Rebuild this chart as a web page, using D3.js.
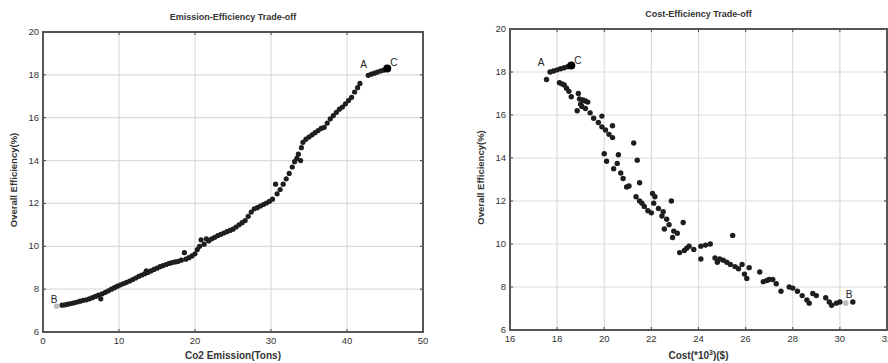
<!DOCTYPE html>
<html>
<head>
<meta charset="utf-8">
<script src="https://cdn.jsdelivr.net/npm/d3@7"></script>
<style>
  body { margin: 0; background: #fff; }
  svg { display: block; font-family: "Liberation Sans", Arial, sans-serif; }
</style>
</head>
<body>
<svg id="chart" width="888" height="363"></svg>
<script>
// Emission vs efficiency (left panel)
const emisX = [2.5, 2.9, 3.3, 3.7, 4.1, 4.5, 4.9, 5.3, 5.7, 6.1, 6.5, 6.9, 7.3, 7.6, 7.8, 8.2, 8.6, 9.0, 9.4, 9.8,
  10.2, 10.6, 11.0, 11.4, 11.8, 12.2, 12.6, 13.0, 13.4, 13.6, 13.8, 14.2, 14.6, 15.0, 15.4, 15.8, 16.2, 16.6, 17.0, 17.4,
  17.8, 18.2, 18.6, 18.8, 19.2, 19.6, 20.0, 20.3, 20.6, 20.8, 21.2, 21.5, 21.8, 22.2, 22.6, 23.0, 23.4, 23.8, 24.2, 24.6,
  25.0, 25.4, 25.8, 26.2, 26.6, 27.0, 27.4, 27.8, 28.2, 28.6, 29.0, 29.4, 29.8, 30.2, 30.6, 30.8, 31.2, 31.6, 32.0, 32.4,
  32.8, 33.1, 33.4, 33.6, 33.9, 34.0, 34.2, 34.6, 35.0, 35.4, 35.8, 36.2, 36.6, 37.0, 37.4, 37.8, 38.2, 38.6, 39.0, 39.4,
  39.8, 40.2, 40.6, 41.0, 41.4, 41.7, 42.8, 43.2, 43.6, 44.0, 44.4, 44.8];
const emisY = [7.25, 7.27, 7.3, 7.33, 7.36, 7.4, 7.44, 7.48, 7.5, 7.55, 7.6, 7.66, 7.72, 7.55, 7.78, 7.85, 7.92, 8.0, 8.07, 8.14,
  8.2, 8.26, 8.32, 8.38, 8.45, 8.52, 8.6, 8.66, 8.72, 8.85, 8.78, 8.85, 8.92, 8.98, 9.05, 9.1, 9.15, 9.2, 9.24, 9.27,
  9.3, 9.35, 9.7, 9.4, 9.47, 9.55, 9.65, 9.85, 10.0, 10.3, 10.1, 10.35, 10.25, 10.35, 10.42, 10.5, 10.56, 10.62, 10.68, 10.74,
  10.8, 10.9, 11.0, 11.1, 11.2, 11.4, 11.6, 11.75, 11.8, 11.88, 11.95, 12.02, 12.1, 12.2, 12.9, 12.45, 12.65, 12.9, 13.15, 13.4,
  13.7, 13.95, 14.1, 14.3, 14.0, 14.6, 14.85, 15.0, 15.1, 15.2, 15.3, 15.4, 15.5, 15.55, 15.75, 15.95, 16.1, 16.25, 16.4, 16.5,
  16.65, 16.8, 16.95, 17.2, 17.4, 17.6, 17.98, 18.03, 18.08, 18.13, 18.18, 18.22];
const emisB = [1.8, 7.2];
const emisC = [45.3, 18.3];
const emisA = [42.0, 18.4];

// Cost vs efficiency (right panel)
const costX = [17.55, 17.7, 17.85, 18.0, 18.15, 18.3, 18.45, 18.1, 18.2, 18.3, 18.4, 18.5, 18.6, 18.9, 18.95, 19.0, 18.85, 19.1, 19.2, 19.3,
  19.05, 19.2, 19.4, 19.55, 19.9, 19.75, 19.9, 20.05, 20.2, 20.35, 20.35, 20.0, 20.1, 20.4, 20.6, 20.55, 20.7, 20.8, 20.95, 21.05,
  21.25, 21.4, 21.5, 21.35, 21.5, 21.6, 21.7, 21.85, 22.0, 22.05, 22.15, 22.1, 22.3, 22.45, 22.5, 22.55, 22.65, 22.75, 22.85, 22.9,
  22.95, 23.1, 23.2, 23.35, 23.4, 23.5, 23.6, 23.8, 24.1, 24.1, 24.3, 24.5, 25.45, 24.7, 24.8, 24.9, 25.05, 25.2, 25.35, 25.55,
  25.7, 25.85, 25.95, 26.05, 26.15, 26.6, 26.75, 26.9, 27.0, 27.15, 27.3, 27.5, 27.85, 28.0, 28.2, 28.4, 28.6, 28.7, 28.85, 29.0,
  29.4, 29.55, 29.65, 29.85, 30.0, 30.55];
const costY = [17.65, 18.0, 18.05, 18.1, 18.15, 18.2, 18.25, 17.5, 17.45, 17.4, 17.25, 17.1, 16.85, 17.0, 16.75, 16.5, 16.2, 16.7, 16.65, 16.6,
  16.4, 16.3, 16.1, 15.85, 15.95, 15.65, 15.45, 15.3, 15.1, 15.5, 14.95, 14.2, 13.85, 13.5, 14.15, 13.75, 13.3, 13.05, 12.65, 12.7,
  14.7, 13.9, 12.85, 12.2, 12.0, 11.9, 11.75, 11.55, 11.45, 12.35, 12.2, 11.9, 11.65, 11.3, 11.5, 10.7, 11.15, 10.9, 12.0, 10.3,
  10.6, 10.5, 9.6, 11.0, 9.7, 9.8, 9.9, 9.75, 9.3, 9.9, 9.95, 10.0, 10.4, 9.35, 9.15, 9.3, 9.25, 9.15, 9.05, 8.95,
  8.85, 9.05, 8.6, 8.4, 8.9, 8.7, 8.25, 8.3, 8.35, 8.35, 8.15, 7.8, 8.0, 7.95, 7.8, 7.6, 7.4, 7.25, 7.7, 7.6,
  7.5, 7.3, 7.15, 7.25, 7.3, 7.3];
const costB = [30.25, 7.25];
const costC = [18.6, 18.3];
const costA = [17.3, 18.3];

const yTicks = [6, 8, 10, 12, 14, 16, 18, 20];
const emisTicks = [0, 10, 20, 30, 40, 50];
const costTicks = [16, 18, 20, 22, 24, 26, 28, 30, 32];

const svg = d3.select('#chart');

function panel(opts) {
  const { left, right, top, bottom } = opts.box;
  const x = d3.scaleLinear().domain(opts.xDomain).range([left, right]);
  const y = d3.scaleLinear().domain([6, 20]).range([bottom, top]);
  const g = svg.append('g');

  // grid
  g.selectAll(null).data(opts.xTicks).enter().append('line')
    .attr('x1', d => x(d)).attr('x2', d => x(d))
    .attr('y1', top).attr('y2', bottom)
    .attr('stroke', '#dcdcdc').attr('stroke-width', 1.2);
  g.selectAll(null).data(yTicks).enter().append('line')
    .attr('x1', left).attr('x2', right)
    .attr('y1', d => y(d)).attr('y2', d => y(d))
    .attr('stroke', '#dcdcdc').attr('stroke-width', 1.2);

  // inward ticks on all sides
  const tk = 3;
  g.selectAll(null).data(opts.xTicks).enter().append('path')
    .attr('d', d => `M${x(d)},${bottom}v${-tk}M${x(d)},${top}v${tk}`)
    .attr('stroke', '#444');
  g.selectAll(null).data(yTicks).enter().append('path')
    .attr('d', d => `M${left},${y(d)}h${tk}M${right},${y(d)}h${-tk}`)
    .attr('stroke', '#444');

  // tick labels
  g.selectAll(null).data(opts.xTicks).enter().append('text')
    .attr('x', d => x(d)).attr('y', bottom + 12)
    .attr('text-anchor', 'middle').attr('font-size', 9.5).attr('fill', '#333')
    .text(d => d);
  g.selectAll(null).data(yTicks).enter().append('text')
    .attr('x', left - 4).attr('y', d => y(d) + 3)
    .attr('text-anchor', 'end').attr('font-size', 9.5).attr('fill', '#333')
    .text(d => d);

  // points
  const pts = d3.zip(opts.xs, opts.ys);
  g.selectAll(null).data(pts).enter().append('circle')
    .attr('cx', d => x(d[0])).attr('cy', d => y(d[1]))
    .attr('r', opts.r).attr('fill', '#1e1e1e');

  g.append('circle').attr('cx', x(opts.B[0])).attr('cy', y(opts.B[1]))
    .attr('r', 2.8).attr('fill', '#bdbdbd');
  g.append('circle').attr('cx', x(opts.C[0])).attr('cy', y(opts.C[1]))
    .attr('r', 4).attr('fill', '#000');

  // A, B, C labels
  const lab = (txt, px, py) => g.append('text')
    .attr('x', px).attr('y', py).attr('font-size', 10).attr('fill', '#222').text(txt);
  lab('A', x(opts.A[0]) + opts.aOff[0], y(opts.A[1]) + opts.aOff[1]);
  lab('B', x(opts.B[0]) + opts.bOff[0], y(opts.B[1]) + opts.bOff[1]);
  lab('C', x(opts.C[0]) + 3, y(opts.C[1]) - 2);

  // frame
  g.append('rect')
    .attr('x', left).attr('y', top)
    .attr('width', right - left).attr('height', bottom - top)
    .attr('fill', 'none').attr('stroke', '#555').attr('stroke-width', 2);

  // titles
  const cx = (left + right) / 2;
  g.append('text').attr('x', cx).attr('y', top - 12)
    .attr('text-anchor', 'middle').attr('font-size', 9).attr('font-weight', 'bold').attr('fill', '#333')
    .text(opts.title);
  const xl = g.append('text').attr('x', cx).attr('y', 359)
    .attr('text-anchor', 'middle').attr('font-size', 10).attr('font-weight', 'bold').attr('fill', '#333');
  opts.xLabel(xl);
  g.append('text')
    .attr('transform', `translate(${left - 26},${(top + bottom) / 2 - 2}) rotate(-90)`)
    .attr('text-anchor', 'middle').attr('font-size', 9.5).attr('font-weight', 'bold').attr('fill', '#333')
    .text('Overall Efficiency(%)');
}

panel({
  box: { left: 43, right: 423, top: 32, bottom: 332 },
  xDomain: [0, 50], xTicks: emisTicks,
  xs: emisX, ys: emisY, r: 2.6,
  A: emisA, B: emisB, C: emisC,
  aOff: [-2, 2], bOff: [-6, -3],
  title: 'Emission-Efficiency Trade-off',
  xLabel: t => t.text('Co2 Emission(Tons)')
});

panel({
  box: { left: 510, right: 887, top: 29, bottom: 330 },
  xDomain: [16, 32], xTicks: costTicks,
  xs: costX, ys: costY, r: 2.7,
  A: costA, B: costB, C: costC,
  aOff: [-3, 0], bOff: [0, -5],
  title: 'Cost-Efficiency Trade-off',
  xLabel: t => {
    t.append('tspan').text('Cost(*10');
    t.append('tspan').attr('font-size', 7).attr('dy', -4).text('3');
    t.append('tspan').attr('dy', 4).text(')($)');
  }
});
</script>
</body>
</html>
